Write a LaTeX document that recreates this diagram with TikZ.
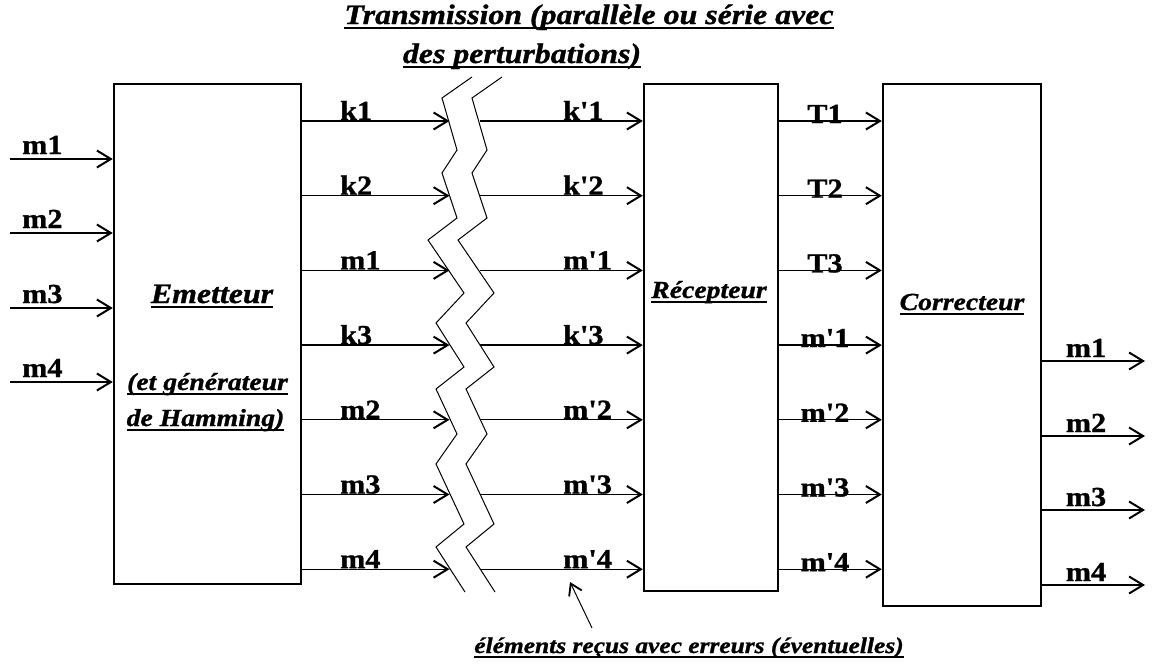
\documentclass[tikz,border=0pt]{standalone}
\usepackage{fontspec}
\setmainfont{Liberation Serif}[BoldFeatures={FakeBold=1.0},BoldItalicFeatures={FakeBold=1.0}]
\usetikzlibrary{arrows.meta}
\newcommand\hs[1]{\scalebox{1.13}[1]{#1}}
\newcommand\hl[1]{\scalebox{1.1}[1]{#1}}
\newcommand\ulx[1]{\setbox0=\hbox{#1}\rlap{\rule[-5pt]{\wd0}{1.9pt}}\box0}
\tikzset{
  blk/.style={draw,line width=2.4pt,inner sep=0pt,fill=white},
  conn/.style={line width=1.3pt,-{Straight Barb[length=14pt,width=17pt,line width=2pt]}},
  zz/.style={line width=1pt,line join=miter},
  lbl/.style={inner sep=0pt,font=\fontsize{27.5}{30}\selectfont\bfseries},
  big/.style={inner sep=0pt,font=\fontsize{28.2}{32}\selectfont\bfseries\itshape},
  mid/.style={inner sep=0pt,font=\fontsize{24.5}{28}\selectfont\bfseries\itshape},
  small/.style={inner sep=0pt,font=\fontsize{22.5}{26}\selectfont\bfseries\itshape},
}
\begin{document}
\begin{tikzpicture}[x=1pt,y=-1pt]
\useasboundingbox (0,0) rectangle (1154,664);
% boxes
\node[blk,minimum width=187pt,minimum height=500pt] (em) at (207.5,334) {};
\node[blk,minimum width=134pt,minimum height=507pt] (re) at (711,337.5) {};
\node[blk,minimum width=158pt,minimum height=522pt] (co) at (962,345) {};
% box texts
\node[big,anchor=base] (emt) at (212,303) {\hs{\ulx{Emetteur}}};
\node[mid,anchor=base] (emg) at (207.5,390) {\hs{\ulx{(et générateur}}};
\node[mid,anchor=base] (emh) at (205.5,426) {\hs{\ulx{de Hamming)}}};
\node[mid,anchor=base] (ret) at (709,298) {\hs{\ulx{Récepteur}}};
\node[mid,anchor=base] (cot) at (962,310) {\hs{\ulx{Correcteur}}};
% titles
\node[big,anchor=base] (t1) at (589,24) {\hs{\ulx{Transmission (parallèle ou série avec}}};
\node[big,anchor=base] (t2) at (522,63) {\hs{\ulx{des perturbations)}}};
\node[small,anchor=base] (t3) at (689,653) {\hs{\ulx{éléments reçus avec erreurs (éventuelles)}}};
% zigzag lines
\foreach \dx in {0,30}{
  \draw[zz,xshift=\dx pt] (472,77) -- (442,98) -- (457,150) -- (442,173) -- (457,218) -- (428,240) -- (464,293) -- (436,323) -- (464,367) -- (436,389) -- (457,434) -- (436,464) -- (464,524) -- (436,547) -- (465,592);
}
% inputs of Emetteur
\foreach \yy/\a [count=\i] in {159/m1,233/m2,308/m3,382/m4}{
  \coordinate (in\i) at (10,\yy);
  \draw[conn] (in\i) -- (in\i -| em.west);
  \node[lbl,anchor=base west] (inl\i) at (22,\yy-5) {\hl{\a}};
}
% channels
\foreach \yy/\a/\b/\c [count=\i] in {121/k1/k\textquotesingle 1/T1,195.7/k2/k\textquotesingle 2/T2,270.4/m1/m\textquotesingle 1/T3,345.1/k3/k\textquotesingle 3/m\textquotesingle 1,419.8/m2/m\textquotesingle 2/m\textquotesingle 2,494.5/m3/m\textquotesingle 3/m\textquotesingle 3,569.2/m4/m\textquotesingle 4/m\textquotesingle 4}{
  \coordinate (zl\i) at (449.5,\yy);
  \coordinate (zr\i) at (479.5,\yy);
  \draw[conn] (zl\i -| em.east) -- (zl\i);
  \draw[conn] (zr\i) -- (zr\i -| re.west);
  \draw[conn] (zr\i -| re.east) -- (zr\i -| co.west);
  \node[lbl,anchor=base west] (ea\i) at (340,\yy-1) {\hl{\a}};
  \node[lbl,anchor=base west] (rb\i) at (563,\yy-1) {\hl{\b}};
  \node[lbl,anchor=base] (rc\i) at (825,\yy+2) {\hl{\c}};
}
% outputs of Correcteur
\foreach \yy/\a [count=\i] in {361/m1,436/m2,510/m3,585/m4}{
  \coordinate (out\i) at (1145,\yy);
  \draw[conn] (out\i -| co.east) -- (out\i);
  \node[lbl,anchor=base] (outl\i) at (1086,\yy-4) {\hl{\a}};
}
% error pointer
\coordinate (errtail) at (592,628);
\coordinate (errtip) at (570,582);
\draw[line width=1pt,-{Straight Barb[length=11pt,width=14pt,line width=1.8pt]}] (errtail) -- (errtip);
\end{tikzpicture}
\end{document}
